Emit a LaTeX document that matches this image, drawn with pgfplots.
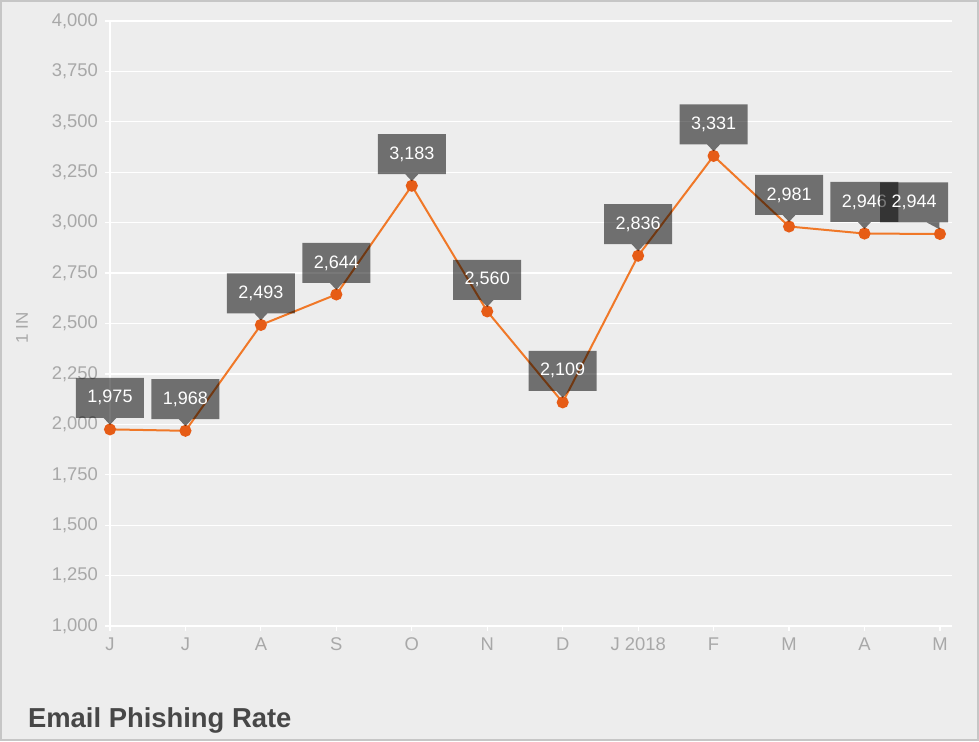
\documentclass[border=0pt]{standalone}
\usepackage{fontspec}
\setmainfont{Liberation Sans}
\usepackage{pgfplots}
\pgfplotsset{compat=1.18}
\usetikzlibrary{shapes.callouts}
\definecolor{bg}{HTML}{EDEDED}
\definecolor{framec}{HTML}{C6C6C6}
\definecolor{tickc}{HTML}{A8A8A8}
\definecolor{titlec}{HTML}{474747}
\definecolor{linec}{HTML}{F07828}
\definecolor{markc}{HTML}{E65C16}
\begin{document}
\begin{tikzpicture}
\fill[bg] (-55pt,-57.5pt) rectangle (434.5pt,313pt);
\draw[framec, line width=1pt] (-54.5pt,-57pt) rectangle (434pt,312.5pt);
\useasboundingbox (-55pt,-57.5pt) rectangle (434.5pt,313pt);
\node[anchor=base west, text=titlec, font=\fontsize{13.7}{15}\selectfont\bfseries] at (-44.5pt,-50.5pt) {Email Phishing Rate};
\node[rotate=90, text=tickc, font=\fontsize{8.5}{10}\selectfont] at (-44pt,149pt) {1 IN};
\begin{axis}[at={(0,0)}, anchor=south west, scale only axis,
  width=421pt, height=302.5pt,
  xmin=0, xmax=11.16, ymin=1000, ymax=4000,
  ytick={1000,1250,...,4000},
  xtick={0,...,11},
  xticklabels={J,J,A,S,O,N,D,J 2018,F,M,A,M},
  axis x line*=bottom, axis y line*=left,
  axis line style={white, line width=0.6pt, -},
  ymajorgrids, grid style={white, line width=0.6pt},
  tick style={white, line width=0.6pt}, tick align=outside, major tick length=2.5pt,
  ticklabel style={font=\fontsize{9.2}{11}\selectfont, text=tickc},
  /pgf/number format/assume math mode=true,
  /pgf/number format/1000 sep={,},
  clip=false,
]
\addplot[linec, line width=1pt, mark=*, mark size=2.5pt, mark options={fill=markc, draw=markc}]
  table[x=x, y=y] {
x y
0 1975
1 1968
2 2493
3 2644
4 3183
5 2560
6 2109
7 2836
8 3331
9 2981
10 2946
11 2944
};
\addplot[draw=none, mark=none, point meta=explicit symbolic,
  nodes near coords={\pgfplotspointmeta},
  every node near coord/.append style={shape=rectangle callout, anchor=pointer, yshift=2pt,
    callout relative pointer={(0pt,-3.5pt)}, callout pointer width=6.5pt,
    fill=black, fill opacity=0.53, text opacity=1, text=white,
    minimum width=34pt, minimum height=20pt, inner sep=0pt,
    font=\fontsize{9}{10}\selectfont}]
  table[x=x, y=y, meta=lab] {
x y lab
0 1975 1,975
1 1968 1,968
2 2493 2,493
3 2644 2,644
4 3183 3,183
5 2560 2,560
6 2109 2,109
7 2836 2,836
8 3331 3,331
9 2981 2,981
10 2946 2,946
};
\addplot[draw=none, mark=none, point meta=explicit symbolic,
  nodes near coords={\pgfplotspointmeta},
  every node near coord/.append style={shape=rectangle callout, anchor=pointer, yshift=2pt,
    callout relative pointer={(3.3pt,-3.5pt)}, callout pointer width=6.5pt,
    fill=black, fill opacity=0.53, text opacity=1, text=white,
    minimum width=34pt, minimum height=20pt, inner sep=0pt,
    font=\fontsize{9}{10}\selectfont}]
  table[x=x, y=y, meta=lab] {
x y lab
11 2944 2,944
};
\end{axis}
\end{tikzpicture}
\end{document}
